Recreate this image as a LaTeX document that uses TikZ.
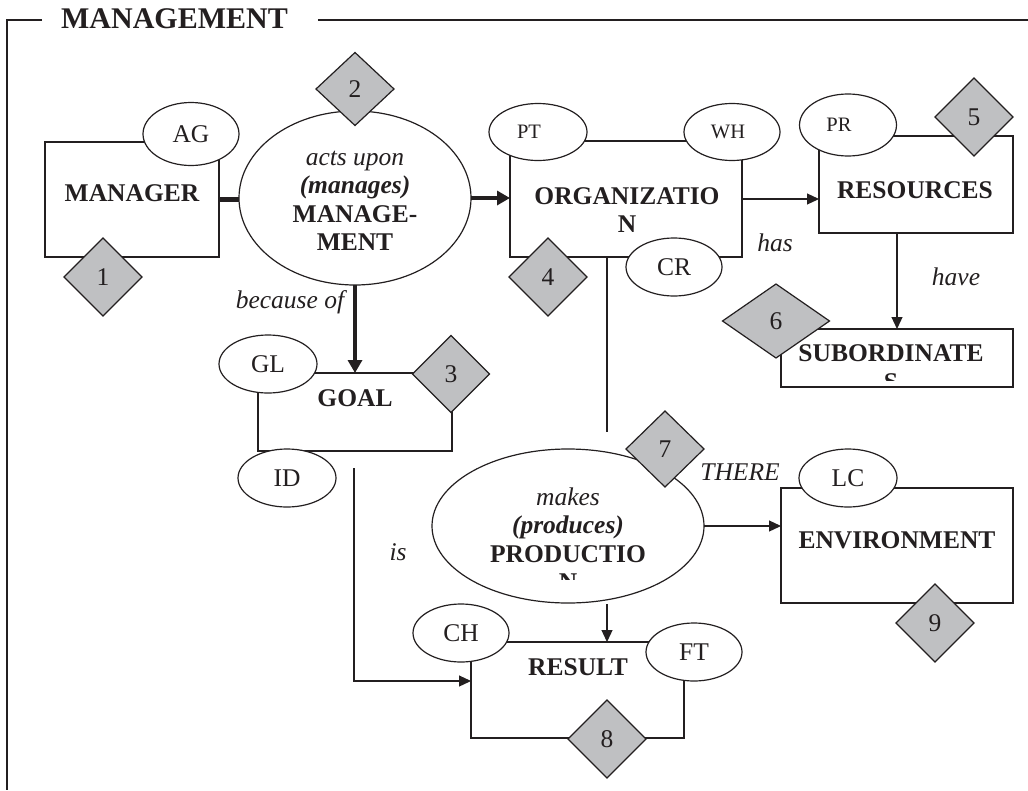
\documentclass[tikz,border=0pt]{standalone}
\usepackage{fontspec}
\setmainfont{Liberation Serif}
\usetikzlibrary{shapes.geometric,arrows.meta,calc}
\definecolor{ink}{RGB}{35,31,32}
\definecolor{dgray}{RGB}{191,192,194}
\begin{document}
\begin{tikzpicture}[x=1pt,y=-1pt,
  every node/.style={inner sep=0pt, outer sep=0pt, text=ink, font=\fontsize{25.5}{28.5}\selectfont},
  boxnode/.style={draw=ink, line width=1.2pt, rectangle},
  ell/.style={draw=ink, line width=1.2pt, ellipse, fill=white},
  smalltxt/.style={font=\fontsize{20.5}{24}\selectfont},
  dia/.style={draw=ink, line width=1.2pt, diamond, fill=dgray, minimum width=78pt, minimum height=78pt},
  bold/.style={font=\fontsize{25.5}{28.5}\selectfont\bfseries},
  ital/.style={font=\fontsize{25.5}{28.5}\selectfont\itshape},
  plainline/.style={draw=ink, line width=1.2pt},
  arrowline/.style={draw=ink, line width=1.2pt, -{Triangle[length=12pt,width=11pt]}},
  thickline/.style={draw=ink, line width=4.5pt},
  thickarrow/.style={draw=ink, line width=4.5pt, -{Triangle[length=13pt,width=14pt]}},
  frameline/.style={draw=ink, line width=1.6pt},
]
\useasboundingbox (0,0) rectangle (1028,790);

% frame and title
\node[font=\fontsize{30}{34}\selectfont\bfseries] (title) at (174.5,19) {MANAGEMENT};
\coordinate (fTL) at (7,20);
\coordinate (fBL) at (7,790);
\coordinate (fTR) at (1028,20);
\draw[frameline] ([xshift=-19pt]title.west |- fTL) -- (fTL) -- (fBL);
\draw[frameline] ([xshift=30pt]title.east |- fTR) -- (fTR);

% boxes
\node[boxnode, minimum width=174pt, minimum height=115pt] (mgr) at (132,199.5) {};
\node[boxnode, minimum width=232pt, minimum height=116pt] (org) at (626,199) {};
\node[boxnode, minimum width=194pt, minimum height=97pt] (res) at (916,184.5) {};
\node[boxnode, minimum width=232pt, minimum height=58pt] (sub) at (897,358) {};
\node[boxnode, minimum width=194pt, minimum height=78pt] (goal) at (355,412) {};
\node[boxnode, minimum width=232pt, minimum height=115pt] (env) at (897,545.5) {};
\node[boxnode, minimum width=213pt, minimum height=96pt] (result) at (577.5,690) {};

% big ellipses
\node[ell, minimum width=232pt, minimum height=174pt] (mgt) at (355,198) {};
\node[ell, minimum width=272pt, minimum height=154pt] (prod) at (568,526) {};

% box texts
\node[bold] (mgrT) at (132,193) {MANAGER};
\node[bold, align=center] (orgT) at (627,210) {ORGANIZATIO\\N};
\node[bold] (resT) at (915,190) {RESOURCES};
\node[bold] (goalT) at (355,398) {GOAL};
\node[bold] (envT) at (897,540) {ENVIRONMENT};
\node[bold] (resultT) at (578,667) {RESULT};
\begin{scope}
  \clip (781,329) rectangle (1013,380);
  \node[bold, align=center] (subT) at (891,367.5) {SUBORDINATE\\S};
\end{scope}
\node[align=center] (mgtT) at (355,201) {\textit{acts upon}\\\textbf{\textit{(manages)}}\\\textbf{MANAGE-}\\\textbf{MENT}};
\begin{scope}
  \clip (432,440) rectangle (703,579);
  \node[align=center] (prodT) at (568,539) {\textit{makes}\\\textbf{\textit{(produces)}}\\\textbf{PRODUCTIO}\\\textbf{N}};
\end{scope}

% connectors
\draw[thickline] (mgr.east) -- (mgr.east -| mgt.west);
\draw[thickarrow] (mgt.east) -- (mgt.east -| org.west);
\draw[thickarrow] (mgt.south) -- (goal.north);
\draw[arrowline] (org.east) -- (org.east -| res.west);
\draw[arrowline] (sub.north |- res.south) -- (sub.north);
\coordinate (orgEnd) at (607,432);
\draw[plainline] (orgEnd |- org.south) -- (orgEnd);
\draw[arrowline] (prod.east) -- (prod.east -| env.west);
\coordinate (prodOut) at (607,604);
\draw[arrowline] (prodOut) -- (prodOut |- result.north);
\coordinate (isStart) at (354,468);
\draw[arrowline] (isStart) |- ($(result.west)+(0,-9)$);

% connector labels
\node[ital] (lblBecause) at (290,302) {because of};
\node[ital] (lblHas) at (775,243) {has};
\node[ital] (lblHave) at (956,277) {have};
\node[ital] (lblIs) at (398,552) {is};
\node[ital] (lblThere) at (740,472) {THERE};

% small ellipses
\node[ell, minimum width=96pt, minimum height=63pt] (ag) at (191,134) {AG};
\node[ell, smalltxt, minimum width=98pt, minimum height=57pt] (pt) at (538,132) {PT\kern18pt};
\node[ell, smalltxt, minimum width=96pt, minimum height=57pt] (wh) at (732,132) {WH\kern8pt};
\node[ell, minimum width=96pt, minimum height=58pt] (cr) at (674,267) {CR};
\node[ell, smalltxt, minimum width=97pt, minimum height=62pt] (pr) at (848,125) {PR\kern18pt};
\node[ell, minimum width=98pt, minimum height=58pt] (gl) at (268,364) {GL};
\node[ell, minimum width=98pt, minimum height=58pt] (id) at (287,478) {ID};
\node[ell, minimum width=98pt, minimum height=58pt] (lc) at (848,478) {LC};
\node[ell, minimum width=96pt, minimum height=58pt] (ch) at (461,633) {CH};
\node[ell, minimum width=96pt, minimum height=58pt] (ft) at (694,652) {FT};

% diamonds
\node[dia] (d1) at (103,277) {1};
\node[dia, minimum height=73pt] (d2) at (355,89) {2};
\node[dia, minimum width=77pt, minimum height=77pt] (d3) at (451,374) {3};
\node[dia] (d4) at (548,277) {4};
\node[dia] (d5) at (974,117) {5};
\node[dia, minimum width=107pt, minimum height=74pt] (d6) at (776,321) {6};
\node[dia, minimum height=76pt] (d7) at (665,449) {7};
\node[dia] (d8) at (607,739) {8};
\node[dia] (d9) at (935,623) {9};
\end{tikzpicture}
\end{document}
